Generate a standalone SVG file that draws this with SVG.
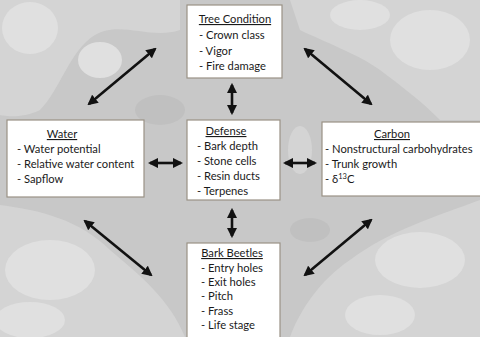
<svg xmlns="http://www.w3.org/2000/svg" width="480" height="337" viewBox="0 0 480 337">
<defs>
<style>
.box{fill:#ffffff;stroke:#9a9285;stroke-width:1.2}
.t{font-family:Lato,"Open Sans","Liberation Sans",sans-serif;font-size:11.2px;fill:#1a1a1a}
.h{text-decoration:underline;text-anchor:middle}
.arr{stroke:#111;stroke-width:2.6;fill:none;marker-start:url(#ah);marker-end:url(#ah)}
.b1{fill:#d4d4d4}
.b2{fill:#e0e0e0}
.b3{fill:#c0c0c0}
</style>
<marker id="ah" viewBox="0 0 10 10" refX="8" refY="5" markerWidth="4" markerHeight="4" orient="auto-start-reverse" markerUnits="strokeWidth">
<path d="M0,0 L10,5 L0,10 z" fill="#111"/>
</marker>
</defs>
<g id="background">
<rect width="480" height="337" fill="#c8c8c8"/>
<path class="b1" d="M0,0 H180 V30 C150,40 120,20 95,35 C70,50 60,90 40,110 C20,120 0,115 0,115 Z"/>
<ellipse class="b2" cx="30" cy="28" rx="28" ry="26"/>
<ellipse class="b2" cx="100" cy="60" rx="22" ry="18"/>
<path class="b1" d="M290,0 H480 V120 H440 C420,100 400,85 380,70 C360,55 320,40 300,30 Z"/>
<ellipse class="b2" cx="430" cy="40" rx="40" ry="30"/>
<ellipse class="b2" cx="360" cy="15" rx="30" ry="15"/>
<path class="b1" d="M0,205 C40,210 80,220 110,250 C140,275 170,300 185,337 H0 Z"/>
<ellipse class="b2" cx="50" cy="270" rx="45" ry="30"/>
<ellipse class="b2" cx="30" cy="320" rx="35" ry="18"/>
<path class="b1" d="M480,200 C440,215 390,230 350,260 C320,280 300,310 290,337 H480 Z"/>
<ellipse class="b2" cx="420" cy="260" rx="45" ry="28"/>
<ellipse class="b2" cx="380" cy="315" rx="35" ry="20"/>
<ellipse class="b1" cx="300" cy="150" rx="12" ry="24"/>
<ellipse class="b3" cx="160" cy="110" rx="25" ry="15"/>
<ellipse class="b3" cx="310" cy="230" rx="20" ry="12"/>
</g>
<g id="connectors">
<line class="arr" x1="89" y1="104" x2="155" y2="49"/>
<line class="arr" x1="305" y1="49" x2="371" y2="104"/>
<line class="arr" x1="85" y1="221" x2="151" y2="275"/>
<line class="arr" x1="305" y1="275" x2="371" y2="220"/>
<line class="arr" x1="150" y1="163" x2="181" y2="163"/>
<line class="arr" x1="285" y1="163" x2="315" y2="163"/>
<line class="arr" x1="232" y1="85" x2="232" y2="113"/>
<line class="arr" x1="232" y1="210" x2="232" y2="236"/>
</g>
<g id="tree-condition">
<rect class="box" x="187" y="5" width="95" height="73"/>
<text class="t h" x="235" y="23">Tree Condition</text>
<text class="t" x="199" y="39">- Crown class</text>
<text class="t" x="199" y="55">- Vigor</text>
<text class="t" x="199" y="70">- Fire damage</text>
</g>
<g id="water">
<rect class="box" x="7" y="120" width="137" height="77"/>
<text class="t h" x="62" y="138">Water</text>
<text class="t" x="17" y="153">- Water potential</text>
<text class="t" x="17" y="168">- Relative water content</text>
<text class="t" x="17" y="183">- Sapflow</text>
</g>
<g id="defense">
<rect class="box" x="187" y="120" width="93" height="80"/>
<text class="t h" x="226" y="135">Defense</text>
<text class="t" x="197" y="150">- Bark depth</text>
<text class="t" x="197" y="165">- Stone cells</text>
<text class="t" x="197" y="180">- Resin ducts</text>
<text class="t" x="197" y="195">- Terpenes</text>
</g>
<g id="carbon">
<rect class="box" x="322" y="122" width="165" height="74"/>
<text class="t h" x="392" y="138">Carbon</text>
<text class="t" x="325" y="153">- Nonstructural carbohydrates</text>
<text class="t" x="325" y="168">- Trunk growth</text>
<text class="t" x="325" y="183">- δ<tspan font-size="7.5" dy="-4">13</tspan><tspan dy="4">C</tspan></text>
</g>
<g id="bark-beetles">
<rect class="box" x="187" y="243" width="93" height="100"/>
<text class="t h" x="232" y="257">Bark Beetles</text>
<text class="t" x="201" y="272">- Entry holes</text>
<text class="t" x="201" y="286">- Exit holes</text>
<text class="t" x="201" y="300">- Pitch</text>
<text class="t" x="201" y="315">- Frass</text>
<text class="t" x="201" y="329">- Life stage</text>
</g>
</svg>
